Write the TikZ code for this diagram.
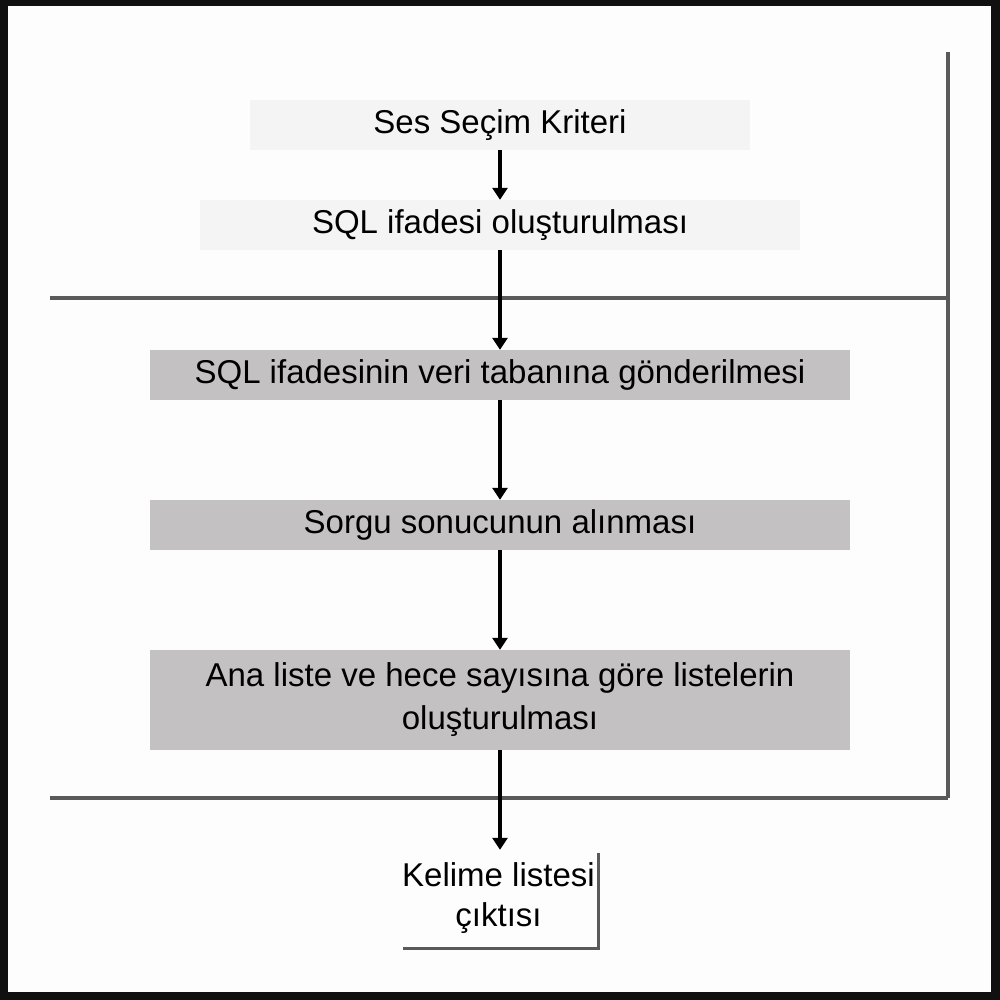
\documentclass[tikz,border=0pt]{standalone}
\usepackage{fontspec}
\setmainfont{Liberation Sans}
\usetikzlibrary{arrows.meta}
\definecolor{framec}{HTML}{101010}
\definecolor{bgc}{HTML}{FDFDFD}
\definecolor{linec}{HTML}{5A5A5A}
\definecolor{lightc}{HTML}{F4F4F4}
\definecolor{grayc}{HTML}{C3C1C1}
\tikzset{
  boxtxt/.style={inner sep=0pt, align=center, font=\fontsize{33}{43}\selectfont, text=black},
  lightbox/.style={boxtxt, fill=lightc, minimum height=50pt},
  graybox/.style={boxtxt, fill=grayc, minimum width=700pt},
  sepline/.style={draw=linec, line width=3.5pt},
  arr/.style={draw=black, line width=3.5pt, -{Triangle[width=15pt,length=12pt]}, shorten >=0pt}
}
\begin{document}
\begin{tikzpicture}[x=1pt,y=-1pt]
\useasboundingbox (0,0) rectangle (1000,1000);
\fill[framec] (0,0) rectangle (1000,1000);
\fill[bgc] (8,6) rectangle (991,992);
% separator lines
\coordinate (tr) at (948,52);
\coordinate (l1) at (50,298);
\coordinate (r1) at (948,298);
\coordinate (l2) at (50,798);
\coordinate (r2) at (948,798);
\draw[sepline] (l1) -- (r1);
\draw[sepline] (l2) -- (r2);
\draw[sepline] (tr) -- (r2);
% boxes
\node[lightbox, minimum width=500pt] (n1) at (500,125) {Ses Seçim Kriteri};
\node[lightbox, minimum width=600pt] (n2) at (500,225) {SQL ifadesi oluşturulması};
\node[graybox, minimum height=50pt] (n3) at (500,375) {SQL ifadesinin veri tabanına gönderilmesi};
\node[graybox, minimum height=50pt] (n4) at (500,525) {Sorgu sonucunun alınması};
\node[graybox, minimum height=100pt] (n5) at (500,700) {Ana liste ve hece sayısına göre listelerin\\oluşturulması};
% output box with shadow
\fill[linec] (403,853) rectangle (600,950);
\node[boxtxt, fill=bgc, minimum width=197pt, minimum height=97pt, font=\fontsize{33}{40}\selectfont] (n6) at (498.5,898.5) {Kelime listesi\\çıktısı};
% arrows
\draw[arr] (n1.south) -- (n2.north);
\draw[arr] (n2.south) -- (n3.north);
\draw[arr] (n3.south) -- (n4.north);
\draw[arr] (n4.south) -- (n5.north);
\draw[arr] (n5.south) -- (n5.south |- n6.north);
\end{tikzpicture}
\end{document}
